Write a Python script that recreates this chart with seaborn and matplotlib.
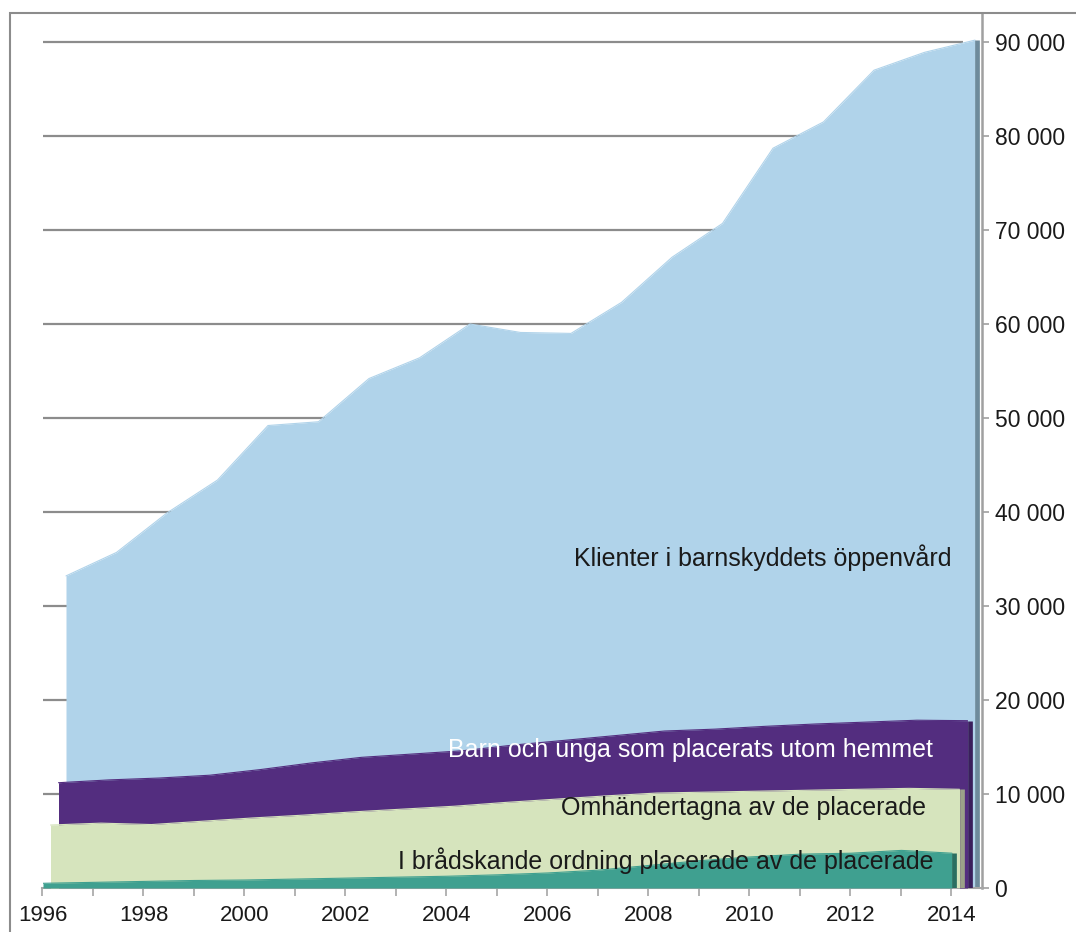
import numpy as np
import pandas as pd
import matplotlib
matplotlib.use('Agg')
import matplotlib.pyplot as plt
import matplotlib.transforms as mtransforms
from matplotlib.patches import Rectangle
from matplotlib.ticker import FuncFormatter
import seaborn as sns

sns.set_theme(style='white')
plt.rcParams['font.family'] = ['Liberation Sans', 'DejaVu Sans']

# values
years = list(range(1996, 2015))
klienter = [33200, 35700, 39900, 43400, 49200, 49600, 54200, 56400, 60000, 59100,
            59000, 62300, 67100, 70700, 78700, 81500, 87000, 88900, 90200]
placerade = [11200, 11500, 11700, 12000, 12600, 13300, 13900, 14250, 14600, 15200,
             15700, 16200, 16700, 16900, 17200, 17450, 17650, 17850, 17800]
omhandertagna = [6700, 6900, 6750, 7100, 7450, 7750, 8100, 8400, 8700, 9100,
                 9450, 9800, 10100, 10200, 10300, 10400, 10500, 10600, 10500]
bradskande = [500, 600, 700, 800, 850, 950, 1050, 1150, 1250, 1400,
              1600, 1900, 2400, 2900, 3300, 3600, 3700, 4000, 3700]

labels = ['Klienter i barnskyddets öppenvård',
          'Barn och unga som placerats utom hemmet',
          'Omhändertagna av de placerade',
          'I brådskande ordning placerade av de placerade']

df = pd.DataFrame({'year': years, labels[0]: klienter, labels[1]: placerade,
                   labels[2]: omhandertagna, labels[3]: bradskande})

# back to front: colour, side colour, depth shift (px), label pos, label colour
series = [
    (labels[0], '#b0d3ea', '#6e8b9c', 23.5, (2014.0, 35100), '#1a1a1a'),
    (labels[1], '#532d7f', '#3a1f5c', 16.0, (2013.63, 14700), '#ffffff'),
    (labels[2], '#d6e4bd', '#9ba189', 8.0, (2013.5, 8500), '#1a1a1a'),
    (labels[3], '#3fa090', '#2b6e61', 0.5, (2013.65, 2870), '#1a1a1a'),
]

fig = plt.figure(figsize=(10.76, 9.32), dpi=100)
ax = fig.add_axes([42.5 / 1076, 44 / 932, (982 - 42.5) / 1076, (888 - 13) / 932])

ax.set_xlim(1996, 1996 + (982 - 42.5) / 50.5)
ax.set_ylim(0, 875 / 94 * 10000)

# back wall gridlines
gridvals = np.arange(10000, 100000, 10000)
ax.hlines(gridvals, 0, 0.98, transform=ax.get_yaxis_transform(),
          color='#8c8c8c', lw=1.6, zorder=0)

for i, (name, col, side, dx, (tx, ty), tcol) in enumerate(series):
    tr = mtransforms.offset_copy(ax.transData, fig=fig, x=dx, y=0, units='dots')
    ax.fill_between(df['year'], 0, df[name], color=col, lw=0, transform=tr, zorder=2 + i)
    sns.lineplot(data=df, x='year', y=name, color=col, lw=0.8, ax=ax,
                 transform=tr, zorder=2 + i)
    # right side face of the 3d area
    tr_side = mtransforms.offset_copy(ax.transData, fig=fig, x=dx + 2.3, y=0, units='dots')
    ax.vlines(df['year'].iloc[-1], 0, df[name].iloc[-1], color=side, lw=3.4,
              transform=tr_side, zorder=2 + i)
    ax.text(tx, ty, name, ha='right', va='center', fontsize=18, color=tcol, zorder=10)

ax.set_xlabel('')
ax.set_ylabel('')

# axes styling
for s in ['top', 'left']:
    ax.spines[s].set_visible(False)
ax.spines['right'].set_color('#a0a0a0')
ax.spines['right'].set_linewidth(1.8)
ax.spines['right'].set_zorder(1)
ax.spines['bottom'].set_color('#a6a6a6')
ax.spines['bottom'].set_linewidth(1.5)

ax.yaxis.tick_right()
ax.set_yticks(np.arange(0, 100000, 10000))
ax.yaxis.set_major_formatter(FuncFormatter(lambda v, p: f'{int(v):,}'.replace(',', ' ')))
ax.tick_params(axis='y', which='major', direction='out', length=5, width=1.2,
               color='#a0a0a0', pad=4, labelsize=16.5, labelcolor='#1a1a1a', right=True)

ax.set_xticks(years)
ax.set_xticklabels([str(y) if y % 2 == 0 else '' for y in years])
ax.tick_params(axis='x', which='major', direction='out', length=6, width=1.2,
               color='#a6a6a6', pad=6, labelsize=16, labelcolor='#1a1a1a', bottom=True)
ax.grid(False)

# chart frame
fig.patches.append(Rectangle((10 / 1076, -0.1), 1.2, (932 - 13) / 932 + 0.1,
                             transform=fig.transFigure, fill=False,
                             edgecolor='#8c8c8c', lw=1.5, zorder=0))

fig.savefig('out.png', dpi=100)
